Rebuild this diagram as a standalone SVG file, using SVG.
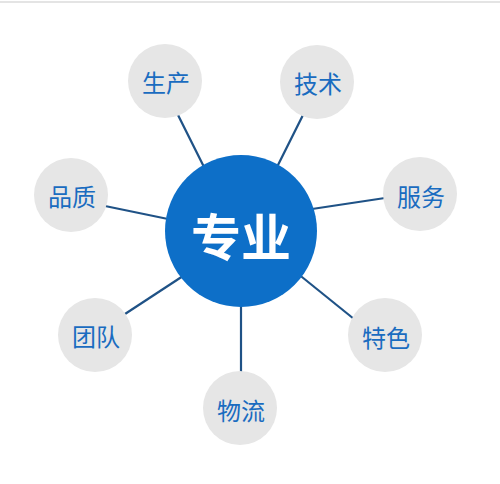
<svg xmlns="http://www.w3.org/2000/svg" width="500" height="484" viewBox="0 0 500 484">
<style>
.sat{fill:#e6e6e6}
.lbl{font-family:"Noto Sans CJK SC","Noto Sans",sans-serif;font-size:24px;fill:#1a6cc0;text-anchor:middle;dominant-baseline:central}
.conn line{stroke:#1f5286;stroke-width:2.2}
</style>
<rect width="500" height="484" fill="#ffffff"/>
<line x1="0" y1="2" x2="500" y2="2" stroke="#e4e4e4" stroke-width="2"/>
<g id="connectors" class="conn">
<line x1="177" y1="113" x2="204" y2="167"/>
<line x1="303" y1="115" x2="277" y2="167"/>
<line x1="105" y1="206" x2="168" y2="219"/>
<line x1="312" y1="209" x2="385" y2="198"/>
<line x1="125" y1="314" x2="183" y2="276"/>
<line x1="297" y1="273" x2="354" y2="319"/>
<line x1="241" y1="303" x2="241" y2="374"/>
</g>
<g id="center">
<circle cx="241" cy="231" r="76" fill="#0d6fc8"/>
<text x="241" y="234" style="font-family:'Noto Sans CJK SC','Noto Sans',sans-serif;font-size:50px;font-weight:bold;fill:#ffffff;text-anchor:middle;dominant-baseline:central">专业</text>
</g>
<g id="n-shengchan"><circle class="sat" cx="165" cy="81" r="37"/><text class="lbl" x="166" y="81">生产</text></g>
<g id="n-jishu"><circle class="sat" cx="317" cy="82" r="37"/><text class="lbl" x="318" y="82">技术</text></g>
<g id="n-pinzhi"><circle class="sat" cx="71" cy="195" r="37"/><text class="lbl" x="72" y="195">品质</text></g>
<g id="n-fuwu"><circle class="sat" cx="420" cy="194" r="37"/><text class="lbl" x="421" y="195">服务</text></g>
<g id="n-tuandui"><circle class="sat" cx="95" cy="335" r="37"/><text class="lbl" x="96" y="335">团队</text></g>
<g id="n-tese"><circle class="sat" cx="385" cy="335" r="37"/><text class="lbl" x="386" y="336">特色</text></g>
<g id="n-wuliu"><circle class="sat" cx="240" cy="408" r="37"/><text class="lbl" x="241" y="409">物流</text></g>
</svg>
